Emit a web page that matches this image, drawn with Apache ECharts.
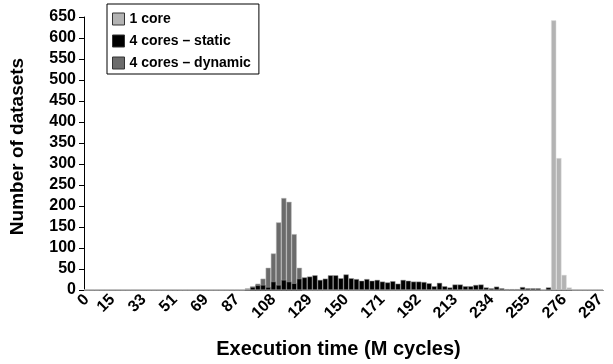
<!DOCTYPE html>
<html><head><meta charset="utf-8">
<script src="https://cdn.jsdelivr.net/npm/echarts@6/dist/echarts.min.js"></script>
<style>html,body{margin:0;padding:0;background:#fff}#c{width:613px;height:364px}</style>
</head><body><div id="c"></div>
<script>
// Bin start values (M cycles), bins of 3
const categories = ['0','3','6','9','12','15','18','21','24','27','30','33','36','39','42','45','48','51','54','57',
'60','63','66','69','72','75','78','81','84','87','90','93','96','99','102','105','108','111','114','117',
'120','123','126','129','132','135','138','141','144','147','150','153','156','159','162','165','168','171','174','177',
'180','183','186','189','192','195','198','201','204','207','210','213','216','219','222','225','228','231','234','237',
'240','243','246','249','252','255','258','261','264','267','270','273','276','279','282','285','288','291','294','297'];

const tickLabels = ['0','15','33','51','69','87','108','129','150','171','192','213','234','255','276','297'];

const oneCore = [0,0,0,0,0,0,0,0,0,0, 0,0,0,0,0,0,0,0,0,0, 0,0,0,0,0,0,0,0,0,0,
0,0,0,0,0,0,0,0,0,0, 0,0,0,0,0,0,0,0,0,0, 0,0,0,0,0,0,0,0,0,0,
0,0,0,0,0,0,0,0,0,0, 0,0,0,0,0,0,0,0,0,0, 0,0,0,0,0,0,0,0,0,0,
642,314,36,6,0,0,0,0,0,0];

const staticCores = [0,0,0,0,0,0,0,0,0,0, 0,0,0,0,0,0,0,0,0,0, 0,0,0,0,0,0,0,0,0,0,
0,1,7,11,12,7,20,12,24,20, 16,27,30,32,35,24,27,35,35,28, 37,28,26,22,26,22,24,20,18,21,
15,24,22,20,20,19,16,9,17,9, 6,13,13,9,9,12,13,6,4,8, 4,2,2,2,7,4,4,4,0,6,
0,0,0,0,0,0,0,0,0,0];

const dynamicCores = [0,0,0,0,0,0,0,0,0,0, 0,0,0,0,0,0,0,0,0,0, 0,0,0,0,0,0,0,0,0,0,
0,4,9,15,27,53,87,161,219,210, 133,53,0,0,0,0,0,0,0,0, 0,0,0,0,0,0,0,0,0,0,
0,0,0,0,0,0,0,0,0,0, 0,0,0,0,0,0,0,0,0,0, 0,0,0,0,0,0,0,0,0,0,
0,0,0,0,0,0,0,0,0,0];

const FONT = 'Arial, "Liberation Sans", sans-serif';
const chart = echarts.init(document.getElementById('c'), null, {renderer:'canvas'});
const barBase = {type:'bar', barGap:'-100%', barCategoryGap:'0%', animation:false};
chart.setOption({
  animation:false,
  backgroundColor:'#fff',
  grid:{left:82, right:10, top:17, bottom:70.5, containLabel:false},
  legend:{
    data:['1 core','4 cores – static','4 cores – dynamic'],
    orient:'vertical', left:107, top:4,
    borderColor:'#000', borderWidth:1, padding:[8,8,4,5],
    itemGap:8, itemWidth:12, itemHeight:12, icon:'rect',
    itemStyle:{borderColor:'#333', borderWidth:1},
    textStyle:{fontFamily:FONT, fontWeight:'bold', fontSize:14, color:'#000', padding:[0,0,0,0]}
  },
  xAxis:{
    type:'category', data:categories, boundaryGap:true,
    name:'Execution time (M cycles)', nameLocation:'middle', nameGap:49,
    nameTextStyle:{fontFamily:FONT, fontWeight:'bold', fontSize:20, color:'#000', padding:[0,10,0,0]},
    axisLine:{lineStyle:{color:'#000', width:1}},
    axisTick:{interval:0, length:5, lineStyle:{color:'#000'}},
    axisLabel:{interval:function(i,v){return tickLabels.indexOf(v)>=0;}, rotate:45, margin:7,
      fontFamily:FONT, fontWeight:'bold', fontSize:16, color:'#000'},
    splitLine:{show:false}
  },
  yAxis:{
    type:'value', min:0, max:650, interval:50,
    name:'Number of datasets', nameLocation:'middle', nameGap:57, nameRotate:90,
    nameTextStyle:{fontFamily:FONT, fontWeight:'bold', fontSize:19, color:'#000', padding:[0,0,0,14]},
    axisLine:{show:true, lineStyle:{color:'#000', width:1}},
    axisTick:{show:true, length:5, lineStyle:{color:'#000'}},
    axisLabel:{margin:8, fontFamily:FONT, fontWeight:'bold', fontSize:16, color:'#000'},
    splitLine:{show:false}
  },
  series:[
    Object.assign({}, barBase, {name:'1 core', data:oneCore, itemStyle:{color:'#b3b3b3', borderColor:'#e0e0e0', borderWidth:0.5}}),
    Object.assign({}, barBase, {name:'4 cores – dynamic', data:dynamicCores, itemStyle:{color:'#6b6b6b', borderColor:'#bdbdbd', borderWidth:0.5}}),
    Object.assign({}, barBase, {name:'4 cores – static', data:staticCores, itemStyle:{color:'#000', borderColor:'#9a9a9a', borderWidth:0.5}})
  ]
});
</script></body></html>
